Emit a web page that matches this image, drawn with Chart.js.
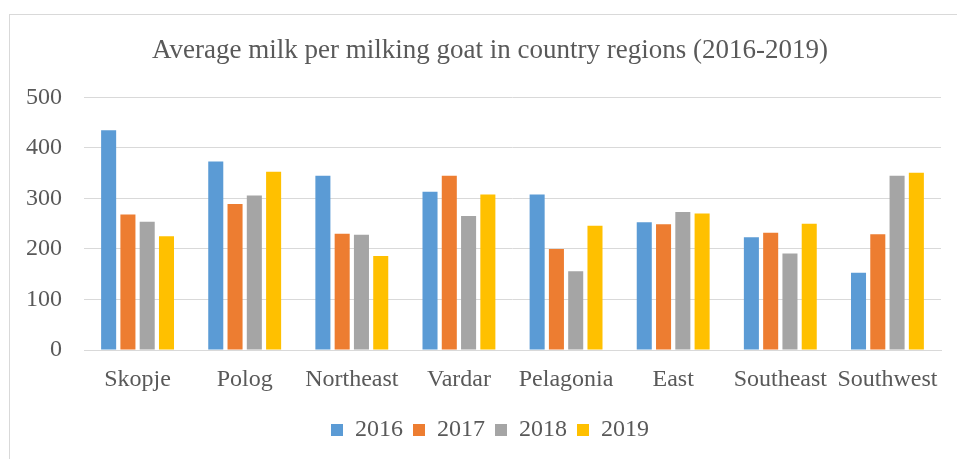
<!DOCTYPE html>
<html>
<head>
<meta charset="utf-8">
<script src="https://cdn.jsdelivr.net/npm/chart.js@4"></script>
<style>
  html, body { margin: 0; padding: 0; background: #fff; overflow: hidden; }
  #frame { position: absolute; left: 9px; top: 14px; width: 1000px; height: 500px; border: 1px solid #d9d9d9; box-sizing: border-box; }
  #wrap { position: absolute; left: 0; top: 0; width: 957px; height: 459px; }
</style>
</head>
<body>
<div id="frame"></div>
<div id="wrap"><canvas id="milkChart" width="957" height="459"></canvas></div>
<script>
const regions = ["Skopje", "Polog", "Northeast", "Vardar", "Pelagonia", "East", "Southeast", "Southwest"];
const years = ["2016", "2017", "2018", "2019"];
const milk2016 = [435, 373, 345, 313, 308, 253, 223, 153];
const milk2017 = [268, 289, 230, 345, 200, 249, 232, 229];
const milk2018 = [254, 306, 228, 265, 156, 273, 191, 345];
const milk2019 = [225, 353, 186, 308, 246, 270, 250, 351];
const yTicks = [0, 100, 200, 300, 400, 500];

const colors = ["#5B9BD5", "#ED7D31", "#A5A5A5", "#FFC000"];
const series = [milk2016, milk2017, milk2018, milk2019];
const textColor = "#595959";
const gridColor = "#d9d9d9";
const serif = "'Liberation Serif', 'Times New Roman', serif";

// title and legend in the original sit a bit right of the canvas centre
const shiftCentre = {
  id: "shiftCentre",
  afterLayout(chart) {
    chart.titleBlock.left = 39;
    chart.legend.left = 39;
  }
};

const ctx = document.getElementById("milkChart").getContext("2d");

new Chart(ctx, {
  type: "bar",
  data: {
    labels: regions,
    datasets: years.map((y, i) => ({
      label: y,
      data: series[i],
      backgroundColor: colors[i],
      borderWidth: 0,
      barPercentage: 0.78,
      categoryPercentage: 0.72
    }))
  },
  plugins: [shiftCentre],
  options: {
    responsive: false,
    maintainAspectRatio: false,
    animation: false,
    layout: { padding: { left: 0, right: 16, top: 0, bottom: 7 } },
    plugins: {
      title: {
        display: true,
        text: "Average milk per milking goat in country regions (2016-2019)",
        color: textColor,
        font: { family: serif, size: 27, weight: "normal" },
        padding: { top: 35, bottom: 30 }
      },
      legend: {
        position: "bottom",
        labels: {
          color: textColor,
          font: { family: serif, size: 24 },
          boxWidth: 12,
          boxHeight: 12,
          padding: 10
        }
      },
      tooltip: { enabled: false }
    },
    scales: {
      x: {
        grid: { display: false, drawTicks: false },
        border: { color: gridColor, width: 1 },
        ticks: { color: textColor, font: { family: serif, size: 24 }, padding: 15, maxRotation: 0 },
        afterFit: s => { s.height = 58; }
      },
      y: {
        min: 0,
        max: 500,
        afterBuildTicks: s => { s.ticks = yTicks.map(v => ({ value: v })); },
        grid: { color: gridColor, lineWidth: 1, drawTicks: false },
        border: { display: false },
        ticks: { color: textColor, font: { family: serif, size: 24 }, padding: 22 },
        afterFit: s => { s.width = 84; }
      }
    }
  }
});
</script>
</body>
</html>
